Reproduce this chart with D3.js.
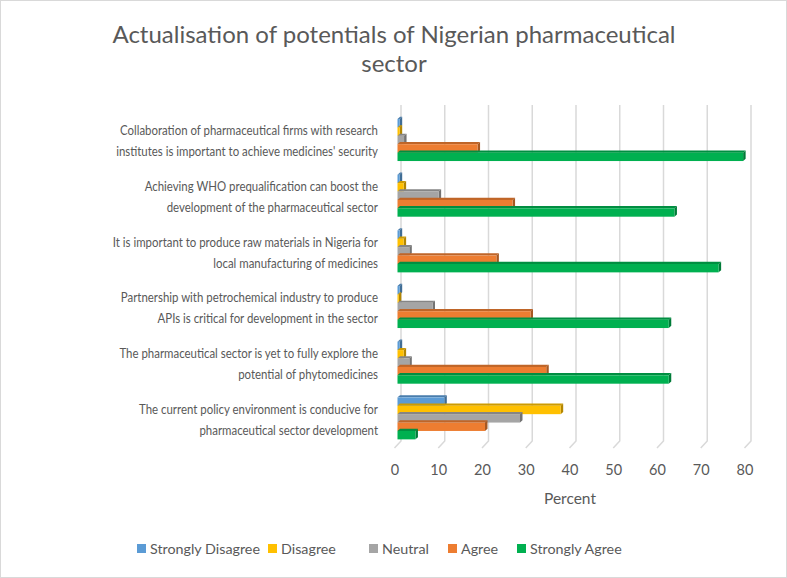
<!DOCTYPE html>
<html><head><meta charset="utf-8">
<script src="https://cdn.jsdelivr.net/npm/d3@7"></script>
<style>
body{margin:0;background:#fff;}
svg text{font-family:Lato,"Open Sans",sans-serif;fill:#595959;}
</style></head>
<body><svg id="c" width="787" height="578"></svg>
<script>
const titleLines = ["Actualisation of potentials of Nigerian pharmaceutical", "sector"];
const categories = [
  "Collaboration of pharmaceutical firms with research|institutes is important to achieve medicines' security",
  "Achieving WHO prequalification can boost the|development of the pharmaceutical sector",
  "It is important to produce raw materials in Nigeria for|local manufacturing of medicines",
  "Partnership with petrochemical industry to produce|APIs is critical for development in the sector",
  "The pharmaceutical sector is yet to fully explore the|potential of phytomedicines",
  "The current policy environment is conducive for|pharmaceutical sector development"
];
const seriesNames = ["Strongly Disagree", "Disagree", "Neutral", "Agree", "Strongly Agree"];
const stronglyDisagree = [0.5, 0.5, 0.5, 0.5, 0.5, 10.7];
const disagree = [0.5, 1.4, 1.4, 0.3, 1.4, 37.3];
const neutral = [1.5, 9.4, 2.7, 8.0, 2.7, 28.0];
const agree = [18.3, 26.3, 22.6, 30.4, 34.0, 20.0];
const stronglyAgree = [79.0, 63.3, 73.4, 62.0, 62.0, 4.1];
const colors = ["#5B9BD5", "#FFC000", "#A5A5A5", "#ED7D31", "#00B050"];
const xTicks = [0, 10, 20, 30, 40, 50, 60, 70, 80];
const xTitle = "Percent";

const seriesValues = [stronglyDisagree, disagree, neutral, agree, stronglyAgree];

const svg = d3.select("#c");
svg.append("rect").attr("x", 0.5).attr("y", 0.5).attr("width", 786).attr("height", 577)
  .attr("fill", "#fff").attr("stroke", "#d9d9d9");

// title
svg.append("g").selectAll("text").data(titleLines).join("text")
  .attr("x", 394).attr("y", (d, i) => 43 + i * 29)
  .attr("text-anchor", "middle").attr("font-size", 24).text(d => d);

// scales
const xBar = d3.scaleLinear().domain([0, 80]).range([397.5, 747.5]);
const xBack = d3.scaleLinear().domain([0, 80]).range([401, 751]);
const xFront = d3.scaleLinear().domain([0, 80]).range([394, 744]);
const y = d3.scaleBand().domain(categories).range([111, 445]);
const ySub = d3.scaleBand().domain(seriesNames).range([0, 5 * 8.4]);

// gridlines (3D back wall + floor)
const grid = svg.append("g");
grid.selectAll("path").data(xTicks).join("path")
  .attr("d", d => `M${xBack(d)},105 L${xBack(d)},441 L${xFront(d) + 0.5},448`)
  .attr("fill", "none").attr("stroke", "#d9d9d9").attr("stroke-width", 1.5);

// tick labels
svg.append("g").selectAll("text").data(xTicks).join("text")
  .attr("x", d => xFront(d) + 1).attr("y", 475)
  .attr("text-anchor", "middle").attr("font-size", 14.5).text(d => d);

svg.append("text").attr("x", 570).attr("y", 504).attr("text-anchor", "middle")
  .attr("font-size", 15.5).text(xTitle);

// category labels
const labG = svg.append("g").attr("transform", "translate(378,0) scale(0.9,1) translate(-378,0)");
const labs = labG.selectAll("text").data(categories).join("text")
  .attr("text-anchor", "end").attr("font-size", 12.7);
labs.each(function (d) {
  const c = y(d) + y.bandwidth() / 2 + 2;
  const lines = d.split("|");
  d3.select(this).selectAll("tspan").data(lines).join("tspan")
    .attr("x", 378).attr("y", (l, i) => c - 5.5 + i * 21).text(l => l);
});

// bars
const dy = 2.2, dx = 2.5, h = 8.4;
const bars = svg.append("g");
categories.forEach((cat, ci) => {
  const top = y(cat) + y.bandwidth() / 2 - 22;
  seriesNames.forEach((s, si) => {
    const v = seriesValues[si][ci];
    const x0 = xBar(0), x1 = xBar(v);
    const yt = top + ySub(s) + dy;
    const col = d3.color(colors[si]);
    const g = bars.append("g");
    g.append("path").attr("d", `M${x0},${yt} L${x0 + dx},${yt - dy} L${x1 + dx},${yt - dy} L${x1},${yt} Z`)
      .attr("fill", col.darker(0.6));
    g.append("path").attr("d", `M${x1},${yt} L${x1 + dx},${yt - dy} L${x1 + dx},${yt + h - dy} L${x1},${yt + h} Z`)
      .attr("fill", col.darker(1.0));
    g.append("rect").attr("x", x0).attr("y", yt).attr("width", Math.max(0.3, x1 - x0)).attr("height", h)
      .attr("fill", col);
  });
});

// legend
const legX = [137, 268, 369, 448, 517];
const leg = svg.append("g").selectAll("g").data(seriesNames).join("g")
  .attr("transform", (d, i) => `translate(${legX[i]},544)`);
leg.append("rect").attr("width", 9).attr("height", 9).attr("fill", (d, i) => colors[i]);
leg.append("text").attr("x", 13).attr("y", 9.5).attr("font-size", 14.3).text(d => d);
</script>
</body></html>
